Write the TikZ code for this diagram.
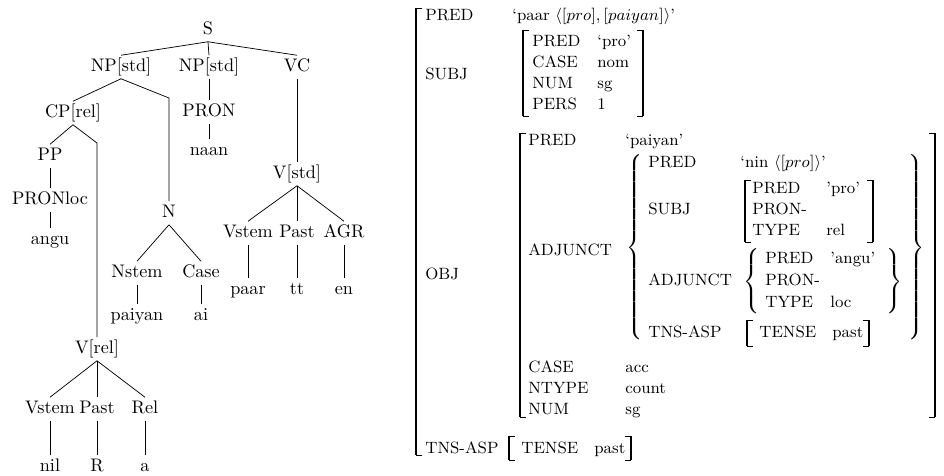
\documentclass[tikz,border=0pt]{standalone}
\usepackage{tikz}

% 方括号（左、右）
\newcommand{\avmlb}[3]{%
  \draw[brk] (#1,#2) -- (#1,#3);
  \draw[hook] (#1,#2) -- (#1+6,#2) (#1,#3) -- (#1+6,#3);}
\newcommand{\avmrb}[3]{%
  \draw[brk] (#1,#2) -- (#1,#3);
  \draw[hook] (#1,#2) -- (#1-6,#2) (#1,#3) -- (#1-6,#3);}
% 花括号的高度
\newcommand{\avmht}[1]{\vcenter{\hbox{\rule{0pt}{#1}}}}

\delimitershortfall=0pt
\delimiterfactor=1000

\begin{document}
\begin{tikzpicture}[x=0.55pt, y=-0.55pt,  % 坐标按像素计
    cat/.style={inner sep=2.5pt, text height=1.5ex, text depth=.25ex},
    avm/.style={anchor=base west, inner sep=0pt, font=\small},
    brc/.style={inner sep=0pt, font=\small},
    brk/.style={line width=0.8pt},
    hook/.style={line width=0.45pt}]

    \useasboundingbox (0,0) rectangle (944,475);

    % 短语结构树
    \node[cat] (s) at (208,30) {S};
    \node[cat] (np1) at (121,67) {NP[std]};
    \node[cat] (np2) at (209,67) {NP[std]};
    \node[cat] (vc) at (297,67) {VC};
    \node[cat] (cp) at (73,113) {CP[rel]};
    \node[cat] (pron) at (209,112) {PRON};
    \node[cat] (naan) at (209,151) {naan};
    \node[cat] (pp) at (50,156) {PP};
    \node[cat] (pronloc) at (50,200) {PRONloc};
    \node[cat] (angu) at (50,240) {angu};
    \node[cat] (vstd) at (297,174) {V[std]};
    \node[cat] (vstem1) at (248,233) {Vstem};
    \node[cat] (past1) at (297,233) {Past};
    \node[cat] (agr) at (344,233) {AGR};
    \node[cat] (paar) at (248,290) {paar};
    \node[cat] (tt) at (297,290) {tt};
    \node[cat] (en) at (344,290) {en};
    \node[cat] (n) at (169,213) {N};
    \node[cat] (nstem) at (137,273) {Nstem};
    \node[cat] (case) at (201,273) {Case};
    \node[cat] (paiyan) at (137,316) {paiyan};
    \node[cat] (ai) at (201,316) {ai};
    \node[cat] (vrel) at (97,349) {V[rel]};
    \node[cat] (vstem2) at (50,409) {Vstem};
    \node[cat] (past2) at (97,409) {Past};
    \node[cat] (rel) at (145,409) {Rel};
    \node[cat] (nil) at (50,467) {nil};
    \node[cat] (r) at (97,467) {R};
    \node[cat] (a) at (145,467) {a};
    \coordinate (nbend) at (169,98);
    \coordinate (vbend) at (97,143);

    % 树枝
    \draw (s.south) -- (np1.north);
    \draw (s.south) -- (np2.north);
    \draw (s.south) -- (vc.north);
    \draw (np1.south) -- (cp.north);
    \draw (np1.south) -- (nbend) -- (n.north);
    \draw (np2.south) -- (pron.north);
    \draw (pron.south) -- (naan.north);
    \draw (cp.south) -- (pp.north);
    \draw (cp.south) -- (vbend) -- (vrel.north);
    \draw (pp.south) -- (pronloc.north);
    \draw (pronloc.south) -- (angu.north);
    \draw (vc.south) -- (vstd.north);
    \draw (vstd.south) -- (vstem1.north);
    \draw (vstd.south) -- (past1.north);
    \draw (vstd.south) -- (agr.north);
    \draw (vstem1.south) -- (paar.north);
    \draw (past1.south) -- (tt.north);
    \draw (agr.south) -- (en.north);
    \draw (n.south) -- (nstem.north);
    \draw (n.south) -- (case.north);
    \draw (nstem.south) -- (paiyan.north);
    \draw (case.south) -- (ai.north);
    \draw (vrel.south) -- (vstem2.north);
    \draw (vrel.south) -- (past2.north);
    \draw (vrel.south) -- (rel.north);
    \draw (vstem2.south) -- (nil.north);
    \draw (past2.south) -- (r.north);
    \draw (rel.south) -- (a.north);

    % 功能结构：最外层
    \avmlb{416}{8}{455}
    \node[avm] (fpred) at (425,20) {PRED};
    \node[avm] (fpredv) at (512,20) {`paar $\langle[pro], [paiyan]\rangle$'};

    % SUBJ
    \node[avm] (fsubj) at (425,79) {SUBJ};
    \avmlb{523}{30}{116}
    \node[avm] (spred) at (532,46.5) {PRED};
    \node[avm] (spredv) at (597,46.5) {`pro'};
    \node[avm] (scase) at (532,67.5) {CASE};
    \node[avm] (scasev) at (597,67.5) {nom};
    \node[avm] (snum) at (532,88.5) {NUM};
    \node[avm] (snumv) at (597,88.5) {sg};
    \node[avm] (spers) at (532,109.5) {PERS};
    \node[avm] (spersv) at (597,109.5) {1};
    \avmrb{643}{30}{116}

    % OBJ
    \node[avm] (fobj) at (425,279) {OBJ};
    \avmlb{520}{133}{417}
    \node[avm] (opred) at (528,145.5) {PRED};
    \node[avm] (opredv) at (625,145.5) {`paiyan'};
    \node[avm] (oadj) at (528,255.5) {ADJUNCT};
    \node[brc, anchor=west] (obrl) at (626,247.5) {$\left\{\avmht{99pt}\right.$};
    \node[avm] (apred) at (648,167.5) {PRED};
    \node[avm] (apredv) at (740,167.5) {`nin $\langle[pro]\rangle$'};
    \node[avm] (asubj) at (648,214.5) {SUBJ};
    \avmlb{745}{180}{242}
    \node[avm] (bpred) at (752,193.5) {PRED};
    \node[avm] (bpredv) at (826,193.5) {'pro'};
    \node[avm] (bpron) at (752,214.5) {PRON-};
    \node[avm] (btype) at (752,235.5) {TYPE};
    \node[avm] (btypev) at (826,235.5) {rel};
    \avmrb{873}{180}{242}
    \node[avm] (aadj) at (648,285.5) {ADJUNCT};
    \node[brc, anchor=west] (cbrl) at (743,281.5) {$\left\{\avmht{35pt}\right.$};
    \node[avm] (cpred) at (765,263.5) {PRED};
    \node[avm] (cpredv) at (830,263.5) {'angu'};
    \node[avm] (cpron) at (765,285.5) {PRON-};
    \node[avm] (ctype) at (765,307.5) {TYPE};
    \node[avm] (ctypev) at (830,307.5) {loc};
    \node[brc, anchor=east] (cbrr) at (903,281.5) {$\left.\avmht{35pt}\right\}$};
    \node[avm] (atns) at (648,337.5) {TNS-ASP};
    \avmlb{747}{320}{346}
    \node[avm] (atense) at (759,337.5) {TENSE};
    \node[avm] (atensev) at (832,337.5) {past};
    \avmrb{869}{320}{346}
    \node[brc, anchor=east] (obrr) at (925,247.5) {$\left.\avmht{99pt}\right\}$};
    \node[avm] (ocase) at (528,372.5) {CASE};
    \node[avm] (ocasev) at (625,372.5) {acc};
    \node[avm] (ontype) at (528,393.5) {NTYPE};
    \node[avm] (ontypev) at (625,393.5) {count};
    \node[avm] (onum) at (528,414.5) {NUM};
    \node[avm] (onumv) at (625,414.5) {sg};
    \avmrb{935}{133}{417}

    % TNS-ASP
    \node[avm] (ftns) at (425,453.5) {TNS-ASP};
    \avmlb{509}{436}{460}
    \node[avm] (ftense) at (521,453.5) {TENSE};
    \node[avm] (ftensev) at (594,453.5) {past};
    \avmrb{631}{436}{460}

\end{tikzpicture}
\end{document}
